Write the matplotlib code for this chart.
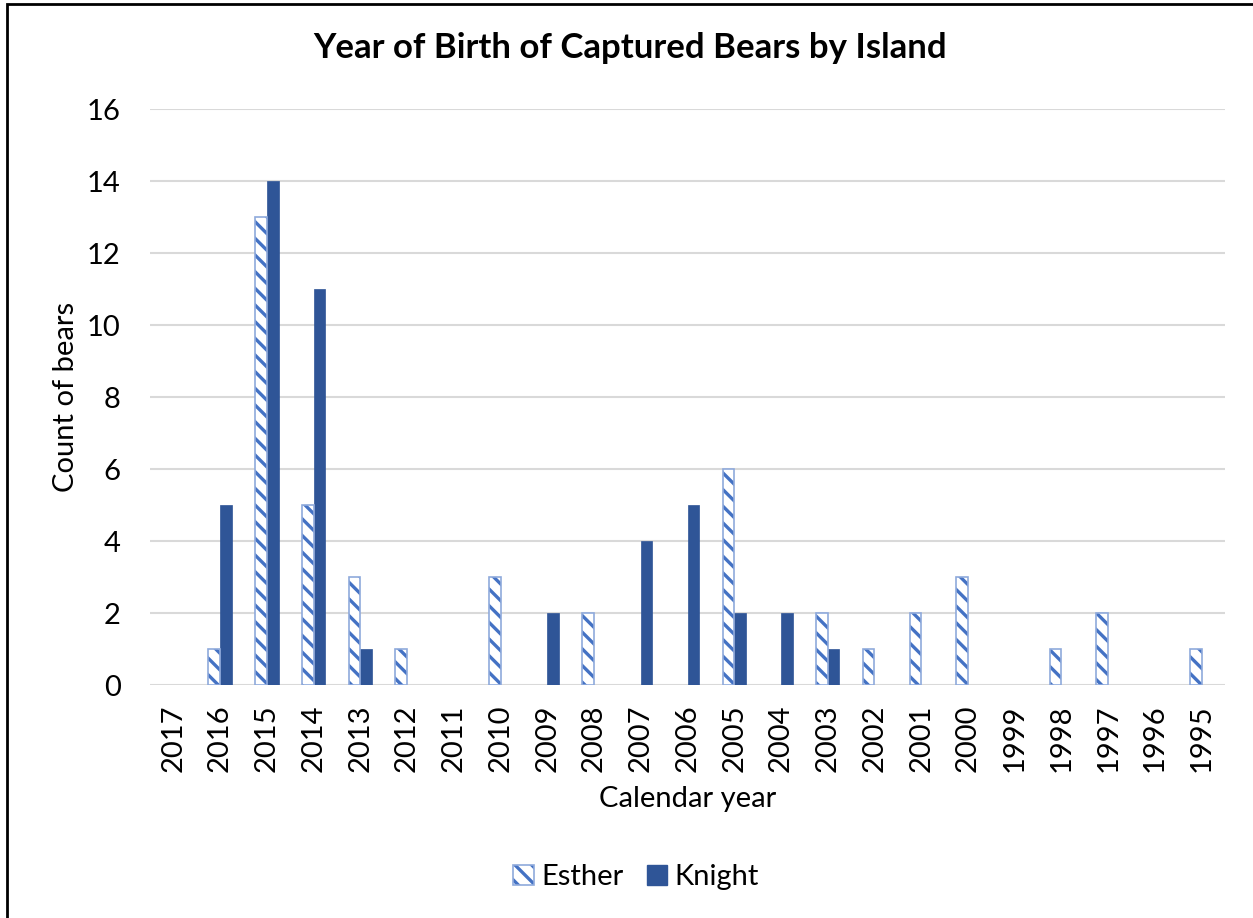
import matplotlib

matplotlib.use("Agg")
import matplotlib.pyplot as plt
import numpy as np
from matplotlib.patches import Patch, Rectangle

plt.rcParams["font.family"] = ["Lato", "DejaVu Sans"]
plt.rcParams["hatch.linewidth"] = 2.4

years = ["2017", "2016", "2015", "2014", "2013", "2012", "2011", "2010",
         "2009", "2008", "2007", "2006", "2005", "2004", "2003", "2002",
         "2001", "2000", "1999", "1998", "1997", "1996", "1995"]
esther = [0, 1, 13, 5, 3, 1, 0, 3, 0, 2, 0, 0, 6, 0, 2, 1, 2, 3, 0, 1, 2, 0, 1]
knight = [0, 5, 14, 11, 1, 0, 0, 0, 2, 0, 4, 5, 2, 2, 1, 0, 0, 0, 0, 0, 0, 0, 0]

ESTHER_COLOR = "#4472C4"
ESTHER_EDGE = "#8FAADC"
KNIGHT_COLOR = "#2F5597"
GRID_COLOR = "#D9D9D9"

fig = plt.figure(figsize=(12.53, 9.18), dpi=100)
ax = fig.add_axes([150 / 1253, 1 - 685 / 918, 1075 / 1253, 576 / 918])

x = np.arange(len(years))
width = 0.25
# empty categories get no bar at all (no edge line at zero)
e_vals = np.where(np.array(esther) > 0, esther, np.nan)
k_vals = np.where(np.array(knight) > 0, knight, np.nan)
ax.bar(x - width / 2, e_vals, width, color="white", edgecolor=ESTHER_COLOR,
       hatch="\\\\", linewidth=0, zorder=3)
ax.bar(x - width / 2, e_vals, width, fill=False, edgecolor=ESTHER_EDGE,
       linewidth=1.2, zorder=4)
ax.bar(x + width / 2, k_vals, width, color=KNIGHT_COLOR, edgecolor=KNIGHT_COLOR,
       linewidth=0.5, zorder=3)

ax.set_xlim(-0.5, len(years) - 0.5)
ax.set_ylim(0, 16)
ax.set_yticks(range(0, 17, 2))
ax.set_xticks(x)
ax.set_xticklabels(years, rotation=90, fontsize=21)
ax.tick_params(axis="y", labelsize=21, length=0, pad=21)
ax.tick_params(axis="x", length=0, pad=14)
ax.grid(axis="y", color=GRID_COLOR, linewidth=1.5, zorder=0)
for spine in ax.spines.values():
    spine.set_visible(False)

ax.set_xlabel("Calendar year", fontsize=21, labelpad=10)
ax.set_ylabel("Count of bears", fontsize=21, labelpad=6)
fig.text(630 / 1253, 1 - 48 / 918, "Year of Birth of Captured Bears by Island",
         ha="center", va="center", fontsize=25, fontweight="bold")

esther_handle = (
    Patch(facecolor="white", edgecolor=ESTHER_COLOR, hatch="\\\\", linewidth=0),
    Patch(fill=False, edgecolor=ESTHER_EDGE, linewidth=1.2),
)
knight_handle = Patch(facecolor=KNIGHT_COLOR, edgecolor=KNIGHT_COLOR)
ax.legend([esther_handle, knight_handle], ["Esther", "Knight"], loc="center",
          bbox_to_anchor=(636 / 1253, 1 - 877 / 918), bbox_transform=fig.transFigure,
          ncol=2, frameon=False, fontsize=21, handlelength=0.7, handleheight=0.7,
          handletextpad=0.25, columnspacing=0.8)

fig.patches.append(Rectangle((7 / 1253, -0.1), 1.2, 1.1 - 5 / 918 + 0.001,
                             transform=fig.transFigure, fill=False,
                             edgecolor="black", linewidth=2.0, zorder=10))

fig.savefig("out.png", dpi=100)
